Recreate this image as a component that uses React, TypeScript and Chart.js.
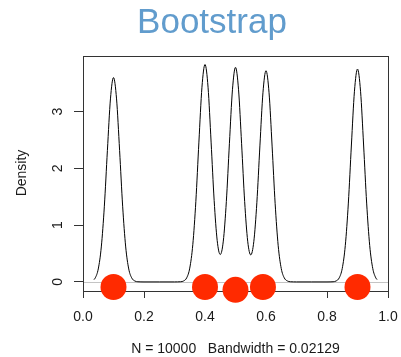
import React, { useEffect, useRef } from "react";
import { Chart, registerables } from "chart.js";

Chart.register(...registerables);

const TITLE = "Bootstrap";
const X_LABEL = "N = 10000   Bandwidth = 0.02129";
const Y_LABEL = "Density";
const X_TICKS = [0, 0.2, 0.4, 0.6, 0.8, 1.0];
const X_TICK_LABELS = ["0.0", "0.2", "0.4", "0.6", "0.8", "1.0"];
const Y_TICKS = [0, 1, 2, 3];
const Y_TICK_LABELS = ["0", "1", "2", "3"];

// bootstrap sample points (red dots)
const SAMPLE_X = [0.1, 0.4, 0.5, 0.59, 0.9];
const SAMPLE_Y = [-0.09, -0.09, -0.14, -0.09, -0.09];

// density curve
const DENSITY_X = [
  0.036, 0.04, 0.05, 0.06, 0.07, 0.08, 0.09, 0.1, 0.11, 0.12, 0.13, 0.14, 0.15,
  0.16, 0.17, 0.18, 0.19, 0.2, 0.25, 0.3, 0.31, 0.32, 0.33, 0.34, 0.35, 0.36,
  0.37, 0.38, 0.39, 0.4, 0.41, 0.42, 0.43, 0.44, 0.45, 0.46, 0.47, 0.48, 0.49,
  0.5, 0.51, 0.52, 0.53, 0.54, 0.55, 0.56, 0.57, 0.58, 0.59, 0.6, 0.61, 0.62,
  0.63, 0.64, 0.65, 0.66, 0.67, 0.68, 0.69, 0.7, 0.75, 0.8, 0.81, 0.82, 0.83,
  0.84, 0.85, 0.86, 0.87, 0.88, 0.89, 0.9, 0.91, 0.92, 0.93, 0.94, 0.95, 0.96,
  0.964,
];
const DENSITY_Y = [
  0.04, 0.068, 0.228, 0.616, 1.334, 2.316, 3.224, 3.6, 3.224, 2.316, 1.334,
  0.616, 0.228, 0.068, 0.016, 0.003, 0.001, 0, 0, 0, 0.001, 0.003, 0.017, 0.072,
  0.243, 0.656, 1.419, 2.463, 3.43, 3.83, 3.43, 2.463, 1.436, 0.728, 0.483,
  0.719, 1.417, 2.434, 3.385, 3.78, 3.385, 2.434, 1.417, 0.717, 0.476, 0.709,
  1.395, 2.396, 3.332, 3.72, 3.332, 2.393, 1.378, 0.637, 0.236, 0.07, 0.017,
  0.003, 0.001, 0, 0, 0, 0.001, 0.003, 0.017, 0.071, 0.238, 0.642, 1.389, 2.412,
  3.359, 3.75, 3.359, 2.412, 1.389, 0.642, 0.238, 0.071, 0.041,
];

const FONT = '"Liberation Sans", Arial, Helvetica, sans-serif';

export default function App() {
  const ref = useRef<HTMLCanvasElement>(null);

  useEffect(() => {
    const canvas = ref.current;
    if (!canvas) return;

    const decor = {
      id: "rdecor",
      beforeDatasetsDraw(chart: any) {
        const { ctx, chartArea: a, scales } = chart;
        const ys = scales.y;
        ctx.save();
        const y0 = Math.round(ys.getPixelForValue(0)) + 0.5;
        ctx.strokeStyle = "#c4c4c4";
        ctx.lineWidth = 1;
        ctx.beginPath();
        ctx.moveTo(a.left, y0);
        ctx.lineTo(a.right, y0);
        ctx.stroke();
        ctx.strokeStyle = "#333";
        ctx.strokeRect(
          Math.round(a.left) + 0.5,
          Math.round(a.top) + 0.5,
          Math.round(a.right - a.left),
          Math.round(a.bottom - a.top)
        );
        ctx.restore();
      },
      afterDraw(chart: any) {
        const { ctx, chartArea: a, scales } = chart;
        const xs = scales.x;
        const ys = scales.y;
        ctx.save();
        // title
        ctx.fillStyle = "#619CCD";
        ctx.font = `35px ${FONT}`;
        ctx.textAlign = "center";
        ctx.textBaseline = "alphabetic";
        ctx.fillText(TITLE, 212, 33);

        ctx.fillStyle = "#1a1a1a";
        ctx.font = `14px ${FONT}`;
        // x tick labels
        X_TICKS.forEach((v, i) => {
          ctx.fillText(X_TICK_LABELS[i], xs.getPixelForValue(v), 321);
        });
        // x label
        ctx.fillText(X_LABEL, (a.left + a.right) / 2, 353);
        // y tick labels (rotated)
        Y_TICKS.forEach((v, i) => {
          ctx.save();
          ctx.translate(61.5, ys.getPixelForValue(v));
          ctx.rotate(-Math.PI / 2);
          ctx.fillText(Y_TICK_LABELS[i], 0, 0);
          ctx.restore();
        });
        // y label
        ctx.save();
        ctx.translate(26, 173);
        ctx.rotate(-Math.PI / 2);
        ctx.fillText(Y_LABEL, 0, 0);
        ctx.restore();
        ctx.restore();
      },
    };

    const chart = new Chart(canvas, {
      type: "line",
      data: {
        datasets: [
          {
            label: "samples",
            data: SAMPLE_X.map((x, i) => ({ x, y: SAMPLE_Y[i] })),
            showLine: false,
            pointRadius: 13,
            pointHoverRadius: 13,
            pointBackgroundColor: "#FF2A00",
            pointBorderWidth: 0,
            borderColor: "#FF2A00",
            clip: false,
            order: 0,
          } as any,
          {
            label: "density",
            data: DENSITY_X.map((x, i) => ({ x, y: DENSITY_Y[i] })),
            borderColor: "#000",
            borderWidth: 1,
            pointRadius: 0,
            fill: false,
            cubicInterpolationMode: "monotone",
            order: 1,
          },
        ],
      },
      options: {
        responsive: false,
        animation: false,
        devicePixelRatio: 1,
        layout: { padding: { top: 56, right: 6, left: 0, bottom: 0 } },
        plugins: {
          legend: { display: false },
          tooltip: { enabled: false },
          title: { display: false },
        },
        events: [],
        scales: {
          x: {
            type: "linear",
            min: 0,
            max: 1,
            afterBuildTicks: (s: any) => {
              s.ticks = X_TICKS.map((v) => ({ value: v }));
            },
            afterFit: (s: any) => {
              s.height = 66;
            },
            ticks: { display: false },
            grid: { drawOnChartArea: false, drawTicks: true, tickLength: 7, color: "#333", lineWidth: 1 },
            border: { display: false },
          },
          y: {
            type: "linear",
            min: -0.16,
            max: 3.98,
            afterBuildTicks: (s: any) => {
              s.ticks = Y_TICKS.map((v) => ({ value: v }));
            },
            afterFit: (s: any) => {
              s.width = 83;
            },
            ticks: { display: false },
            grid: { drawOnChartArea: false, drawTicks: true, tickLength: 9, color: "#333", lineWidth: 1 },
            border: { display: false },
          },
        },
      } as any,
      plugins: [decor],
    });

    return () => chart.destroy();
  }, []);

  return (
    <div style={{ position: "absolute", left: 0, top: 0, width: 401, height: 357, background: "#fff" }}>
      <canvas ref={ref} width={401} height={357} style={{ width: 401, height: 357, display: "block" }} />
    </div>
  );
}
